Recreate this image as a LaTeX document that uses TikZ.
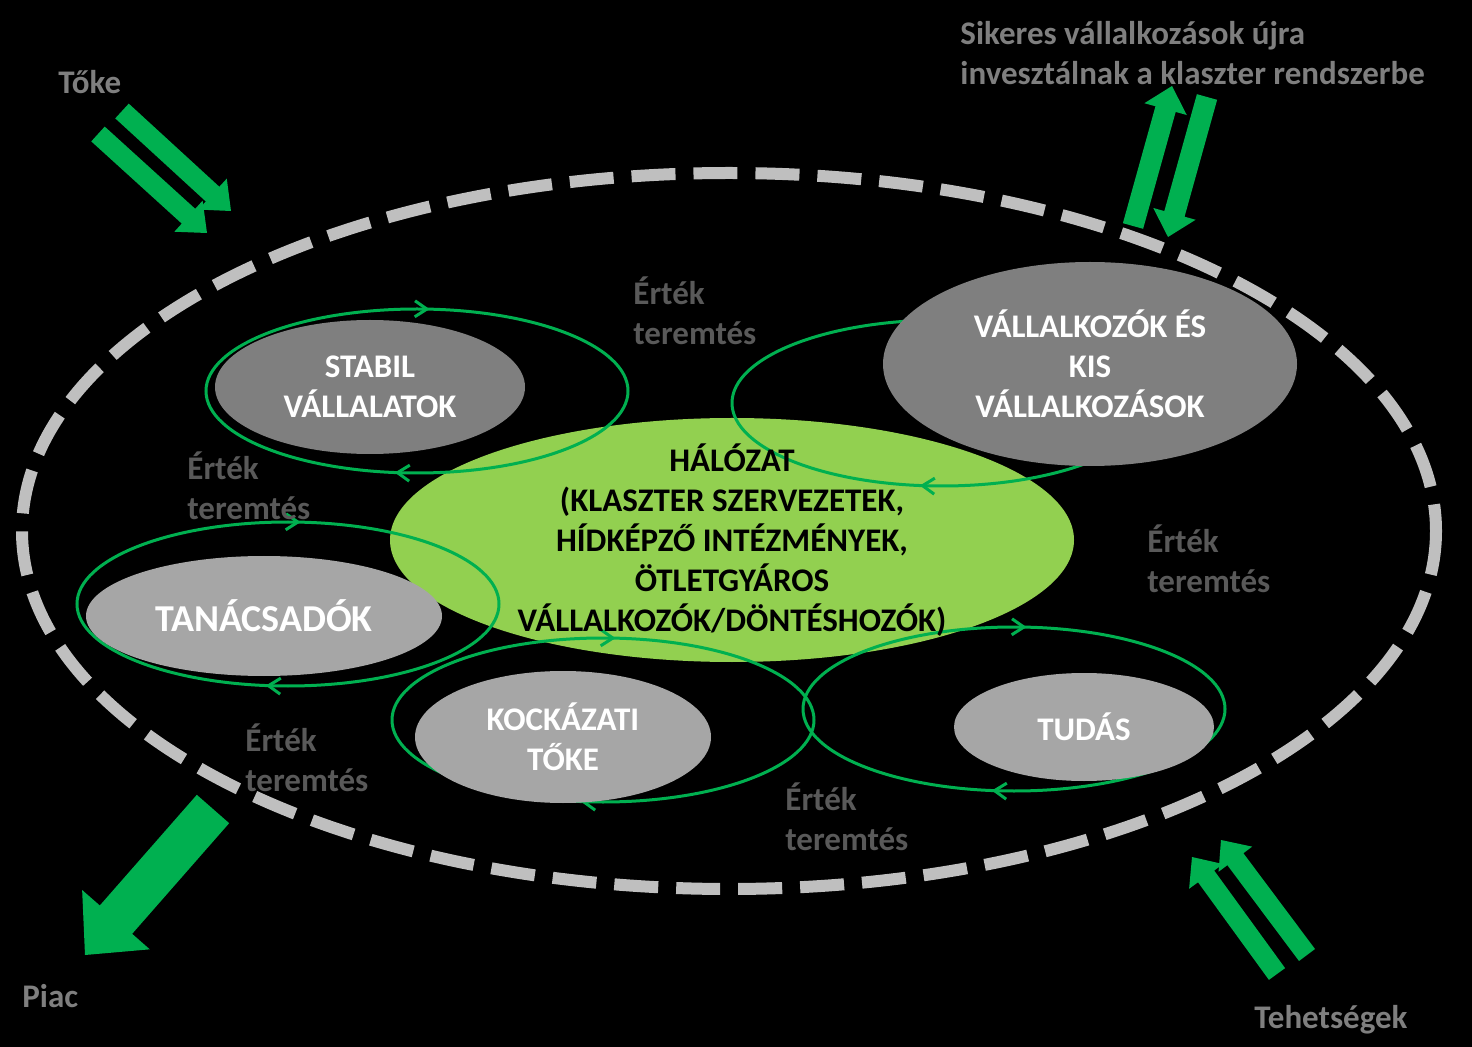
\documentclass[tikz,border=0pt]{standalone}
\usepackage{fontspec}
\setmainfont{Carlito}
\usetikzlibrary{shapes.geometric,calc,decorations.markings,arrows.meta}

\definecolor{arrowgreen}{RGB}{0,176,80}
\definecolor{netgreen}{RGB}{146,208,80}
\definecolor{darkbox}{RGB}{127,127,127}
\definecolor{lightbox}{RGB}{166,166,166}
\definecolor{ringgrey}{RGB}{191,191,191}
\definecolor{labelgrey}{RGB}{127,127,127}
\definecolor{valuegrey}{RGB}{89,89,89}

% block arrow: tail, tip, half shaft, half head, head length
\newcommand{\greenarrow}[5]{%
  \coordinate (gb) at ($(#2)!#5!(#1)$);
  \fill[arrowgreen] ($(#1)!#3!90:(#2)$) -- ($(gb)!#3!90:(#2)$) -- ($(gb)!#4!90:(#2)$) -- (#2)
    -- ($(gb)!#4!-90:(#2)$) -- ($(gb)!#3!-90:(#2)$) -- ($(#1)!#3!-90:(#2)$) -- cycle;}

\tikzset{
  bigfont/.style={font=\bfseries\fontsize{16.5}{20}\selectfont},
  actor/.style={ellipse, inner sep=0pt, text=white, align=center, bigfont},
  loopring/.style={draw=arrowgreen, line width=1.5pt, postaction={decorate},
    decoration={markings,
      mark=at position 0.273 with {\arrow{Straight Barb[length=6pt,width=8pt]}},
      mark=at position 0.763 with {\arrow{Straight Barb[length=6pt,width=8pt]}}}},
  valuelabel/.style={anchor=west, inner sep=0pt, align=left, text=valuegrey, bigfont},
  outerlabel/.style={anchor=west, inner sep=0pt, align=left, text=labelgrey, bigfont},
}

\begin{document}
\begin{tikzpicture}[x=0.5pt,y=0.5pt,yscale=-1,xscale=1]
  %Background
  \fill[black] (0,0) rectangle (1472,1047);

  %Arrows in and out
  \coordinate (tokeA-tail) at (122,111);  \coordinate (tokeA-tip) at (231,211);
  \coordinate (tokeB-tail) at (98,134);   \coordinate (tokeB-tip) at (207,233);
  \coordinate (back-tail) at (1133,226);  \coordinate (back-tip) at (1172,86);
  \coordinate (reinv-tail) at (1207,97);  \coordinate (reinv-tip) at (1168,237);
  \coordinate (piac-tail) at (213,809);   \coordinate (piac-tip) at (85,955);
  \coordinate (talA-tail) at (1277,974);  \coordinate (talA-tip) at (1192,857);
  \coordinate (talB-tail) at (1307,955);  \coordinate (talB-tip) at (1221,840);
  \greenarrow{tokeA-tail}{tokeA-tip}{5pt}{10.5pt}{12.5pt}
  \greenarrow{tokeB-tail}{tokeB-tip}{5pt}{10.5pt}{12.5pt}
  \greenarrow{back-tail}{back-tip}{5.25pt}{11pt}{12pt}
  \greenarrow{reinv-tail}{reinv-tip}{5.25pt}{11pt}{12pt}
  \greenarrow{piac-tail}{piac-tip}{10.75pt}{22.5pt}{23.5pt}
  \greenarrow{talA-tail}{talA-tip}{5pt}{10.5pt}{12pt}
  \greenarrow{talB-tail}{talB-tip}{5pt}{10.5pt}{12pt}

  %Cluster border
  \draw[ringgrey, line width=6pt, dash pattern=on 22pt off 9pt] (729,531) ellipse [x radius=707, y radius=358];

  %Network
  \node[ellipse, fill=netgreen, inner sep=0pt, minimum width=342pt, minimum height=122pt] (net) at (732,540) {};

  %Value loops
  \draw[loopring] (417,391) ellipse [x radius=211, y radius=82];
  \draw[loopring] (942,403) ellipse [x radius=210, y radius=83];
  \draw[loopring] (288,604) ellipse [x radius=211, y radius=82];
  \draw[loopring] (603,720) ellipse [x radius=211, y radius=82];
  \draw[loopring] (1014,709) ellipse [x radius=211, y radius=82];

  %Actors
  \node[actor, fill=darkbox, minimum width=155pt, minimum height=67pt] (stabil) at (370,387) {STABIL\\VÁLLALATOK};
  \node[actor, fill=darkbox, minimum width=207pt, minimum height=102pt] (vallalkozok) at (1090,364) {VÁLLALKOZÓK ÉS\\KIS\\VÁLLALKOZÁSOK};
  \node[actor, fill=lightbox, minimum width=178pt, minimum height=60pt, font=\bfseries\fontsize{19}{22}\selectfont] (tanacs) at (264,616) {TANÁCSADÓK};
  \node[actor, fill=lightbox, minimum width=148pt, minimum height=66pt] (kockazati) at (563,737) {KOCKÁZATI\\TŐKE};
  \node[actor, fill=lightbox, minimum width=130pt, minimum height=54pt] (tudas) at (1084,727) {TUDÁS};

  % Text Node
  \node[align=center, inner sep=0pt, bigfont] (net-text) at (net) {HÁLÓZAT\\(KLASZTER SZERVEZETEK,\\HÍDKÉPZŐ INTÉZMÉNYEK,\\ÖTLETGYÁROS\\VÁLLALKOZÓK/DÖNTÉSHOZÓK)};

  % Text Node
  \node[valuelabel] (value1) at (633,311) {Érték\\teremtés};
  \node[valuelabel] (value2) at (187,486) {Érték\\teremtés};
  \node[valuelabel] (value3) at (1147,559) {Érték\\teremtés};
  \node[valuelabel] (value4) at (245,758) {Érték\\teremtés};
  \node[valuelabel] (value5) at (785,817) {Érték\\teremtés};

  % Text Node
  \node[outerlabel] (toke) at (58,82) {Tőke};
  \node[outerlabel] (piac) at (22,996) {Piac};
  \node[outerlabel] (tehetseg) at (1254,1020) {Tehetségek};
  \node[outerlabel] (sikeres) at (960,53) {Sikeres vállalkozások újra\\invesztálnak a klaszter rendszerbe};
\end{tikzpicture}
\end{document}
